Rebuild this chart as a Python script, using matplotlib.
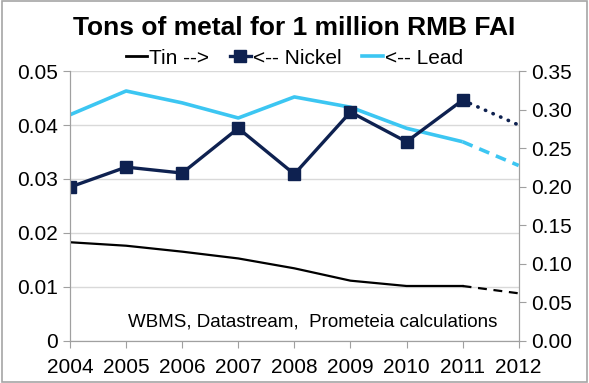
import matplotlib.pyplot as plt
from matplotlib.patches import Rectangle
from matplotlib.ticker import FormatStrFormatter

plt.rcParams["font.family"] = ["Liberation Sans", "DejaVu Sans"]

years = [2004, 2005, 2006, 2007, 2008, 2009, 2010, 2011, 2012]
lead = [0.0419, 0.0463, 0.0441, 0.0413, 0.0452, 0.0433, 0.0394, 0.0369, 0.0325]
nickel = [0.0285, 0.0322, 0.0311, 0.0394, 0.0309, 0.0424, 0.0369, 0.0446, 0.0400]
tin = [0.128, 0.1235, 0.1158, 0.107, 0.0942, 0.0782, 0.0713, 0.0713, 0.0618]

navy = "#0e2150"
sky = "#3cc6f2"
grid_col = "#d9d9d9"
spine_col = "#a0a0a0"


def main():
    fig = plt.figure(figsize=(5.89, 3.83), dpi=100)
    ax = fig.add_axes([0.1189, 0.1097, 0.7617, 0.7049])
    ax2 = ax.twinx()

    # solid history, broken forecast for last year
    ax.plot(years[:-1], lead[:-1], color=sky, lw=2.6, solid_capstyle="butt")
    ax.plot(years[-2:], lead[-2:], color=sky, lw=2.6, ls=(0, (3, 2)))
    ax.plot(years[:-1], nickel[:-1], color=navy, lw=2.4, marker="s", ms=8)
    ax.plot(years[-2:], nickel[-2:], color=navy, lw=2.6, ls=(0, (0.1, 2.2)),
            dash_capstyle="round")
    ax2.plot(years[:-1], tin[:-1], color="black", lw=1.6)
    ax2.plot(years[-2:], tin[-2:], color="black", lw=1.6, ls=(0, (4, 3)))

    ax.set_xlim(2004, 2012)
    ax.set_ylim(0, 0.05)
    ax2.set_ylim(0, 0.35)
    ax.set_xticks(years)
    ax.set_yticks([0, 0.01, 0.02, 0.03, 0.04, 0.05])
    ax.set_yticklabels(["0", "0.01", "0.02", "0.03", "0.04", "0.05"])
    ax2.set_yticks([0.05 * i for i in range(8)])
    ax2.yaxis.set_major_formatter(FormatStrFormatter("%.2f"))
    ax.grid(axis="y", color=grid_col, lw=1)
    ax.set_axisbelow(True)

    for a in (ax, ax2):
        a.tick_params(labelsize=15, length=5, color=spine_col, direction="out",
                      pad=4)
        a.spines["top"].set_visible(False)
        for s in ("left", "right", "bottom"):
            a.spines[s].set_color(spine_col)
    ax.tick_params(axis="x", pad=7)

    ax.text(0.952, 0.04, "WBMS, Datastream,  Prometeia calculations",
            transform=ax.transAxes, ha="right", va="bottom", fontsize=13.5)

    fig.text(0.5, 0.928, "Tons of metal for 1 million RMB FAI", ha="center",
             va="center", fontsize=19, fontweight="bold")

    handles = [
        plt.Line2D([], [], color="black", lw=2),
        plt.Line2D([], [], color=navy, lw=2.4, marker="s", ms=8),
        plt.Line2D([], [], color=sky, lw=2.6),
    ]
    fig.legend(handles, ["Tin -->", "<-- Nickel", "<-- Lead"], loc="center",
               bbox_to_anchor=(0.5, 0.848), ncol=3, frameon=False, fontsize=15,
               handlelength=1.0, handletextpad=0.1, columnspacing=1.0,
               borderpad=0)

    fig.patches.append(Rectangle((0.003, 0.003), 0.994, 0.994,
                                 transform=fig.transFigure, fill=False,
                                 edgecolor="#a6a6a6", lw=1.2))

    fig.savefig("out.png", dpi=100)


if __name__ == "__main__":
    main()
